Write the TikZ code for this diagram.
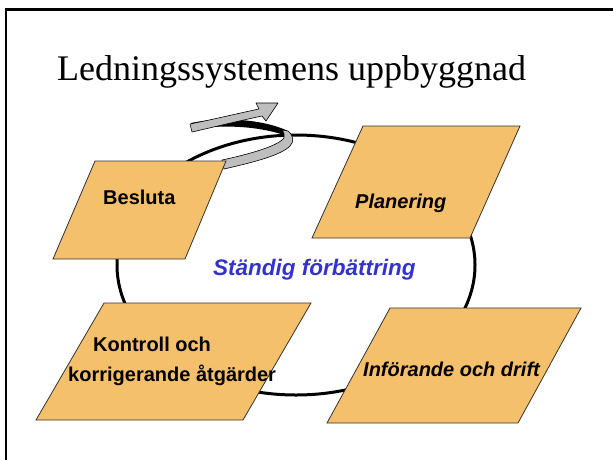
\documentclass[tikz,border=0pt]{standalone}
\usepackage{fontspec}
\setmainfont{Liberation Serif}
\newfontfamily\arialfont{Liberation Sans}
\definecolor{boxfill}{HTML}{F4C06C}
\definecolor{bluetext}{HTML}{3333CC}
\definecolor{ribbon}{HTML}{BEBEBE}
\begin{document}
\begin{tikzpicture}[x=1pt,y=-1pt,
  box/.style={fill=boxfill, draw=black!80, line width=0.8pt, line join=miter},
  lbl/.style={anchor=base west, inner sep=0pt, font=\arialfont\bfseries\fontsize{20}{24}\selectfont},
  ilbl/.style={lbl, font=\arialfont\bfseries\itshape\fontsize{20}{24}\selectfont},
  ribbonpart/.style={fill=ribbon, draw=black, line width=0.6pt, line join=round}]
\useasboundingbox (0,0) rectangle (613,459);
\clip (0,0) rectangle (613,459);
% frame
\draw[line width=2.3pt] (6,9.5) rectangle (660,520);
% title
\node[anchor=base west, inner sep=0pt, font=\fontsize{36}{40}\selectfont] (title) at (57,80) {Ledningssystemens uppbyggnad};
% cycle ellipse
\coordinate (ec) at (296,265);
\draw[line width=3pt] (ec) ellipse [x radius=179pt, y radius=130pt];
% spiral arrow: back part
\fill[black] (191,123) .. controls (225,116) and (265,120) .. (288,131) -- (287,136) .. controls (262,127) and (228,124) .. (193,129) -- cycle;
% front band
\draw[ribbonpart] (222,160) .. controls (250,154) and (278,146) .. (284,138) .. controls (285,135) and (284,133) .. (282,130) -- (288,131) .. controls (294,136) and (294,142) .. (290,146) .. controls (280,156) and (250,163) .. (224,169) -- cycle;
% upper band with head
\draw[ribbonpart] (190,124) .. controls (215,119) and (240,113) .. (259,109) -- (256,103) -- (278,103) -- (266,121) -- (262,116) .. controls (243,120) and (218,126) .. (192,132) -- cycle;
% boxes
\coordinate (b1) at (95,161);  \coordinate (b2) at (226,161);
\coordinate (b3) at (185,259); \coordinate (b4) at (53,259);
\draw[box] (b1) -- (b2) -- (b3) -- (b4) -- cycle;
\coordinate (p1) at (363,126); \coordinate (p2) at (520,126);
\coordinate (p3) at (470,238); \coordinate (p4) at (312,238);
\draw[box] (p1) -- (p2) -- (p3) -- (p4) -- cycle;
\coordinate (k1) at (104,303); \coordinate (k2) at (311,303);
\coordinate (k3) at (243,420); \coordinate (k4) at (36,420);
\draw[box] (k1) -- (k2) -- (k3) -- (k4) -- cycle;
\coordinate (i1) at (390,308); \coordinate (i2) at (581,308);
\coordinate (i3) at (518,423); \coordinate (i4) at (327,423);
\draw[box] (i1) -- (i2) -- (i3) -- (i4) -- cycle;
% labels
\node[lbl] (besluta) at (103,204) {Besluta};
\node[ilbl] (planering) at (355,208) {Planering};
\node[lbl] (kontroll1) at (93,351) {Kontroll och};
\node[lbl] (kontroll2) at (68,381) {korrigerande åtgärder};
\node[ilbl] (inforande) at (363,376) {Införande och drift};
\node[anchor=base west, inner sep=0pt, text=bluetext, font=\arialfont\bfseries\itshape\fontsize{22.5}{26}\selectfont] (standig) at (213,275) {Ständig förbättring};
\end{tikzpicture}
\end{document}
